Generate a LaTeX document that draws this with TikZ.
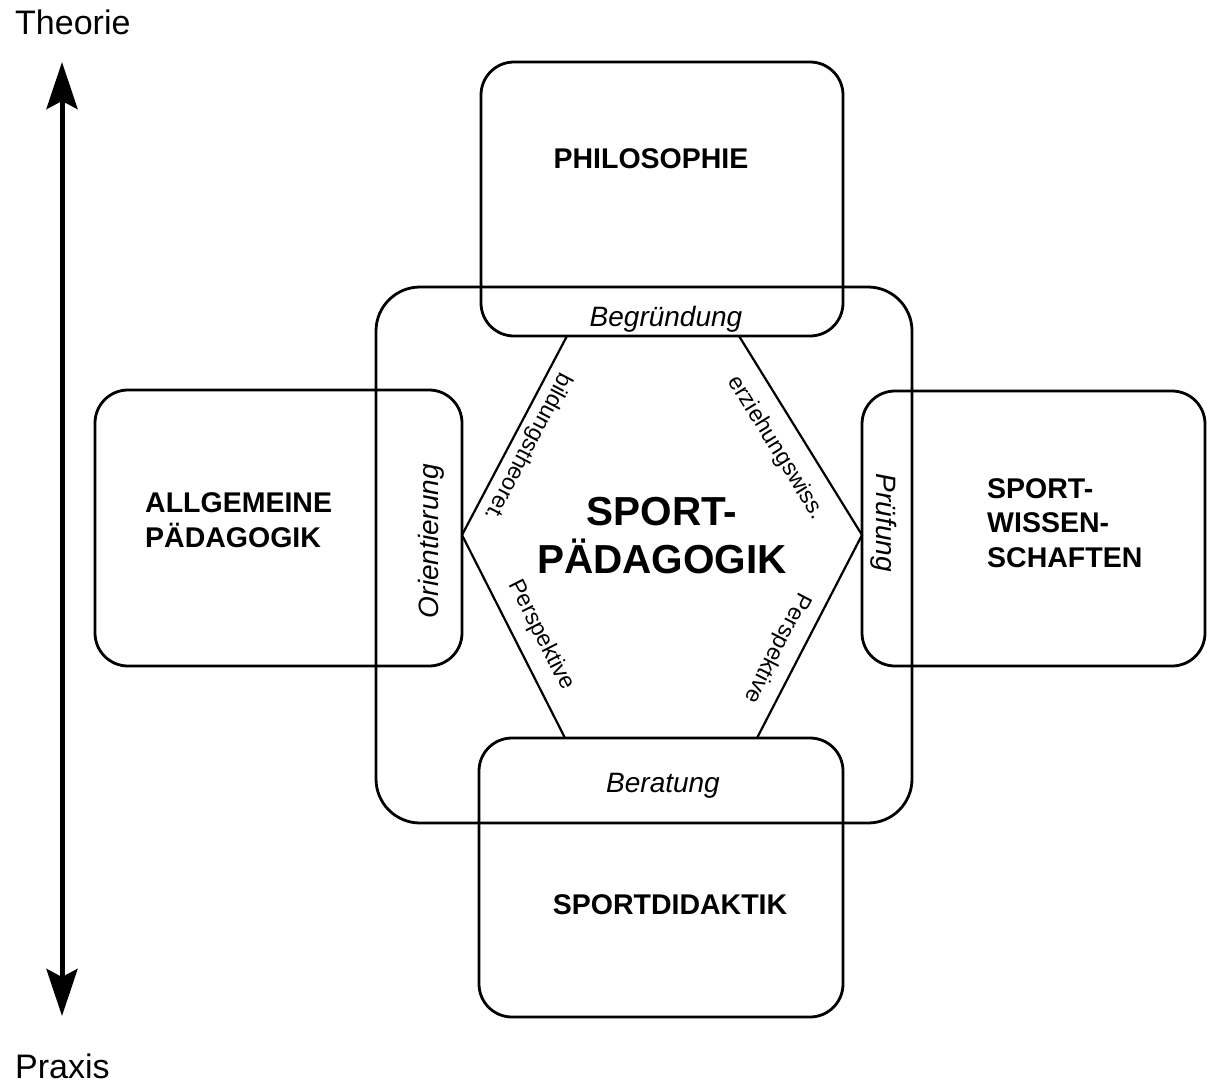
\documentclass[tikz,border=0pt]{standalone}
\usepackage{fontspec}
\setmainfont{Liberation Sans}
\usetikzlibrary{arrows.meta}
\begin{document}
\begin{tikzpicture}[x=1pt,y=-1pt,
  box/.style={draw, line width=2.8pt, rounded corners=33pt, inner sep=0pt, outer sep=0pt},
  hexline/.style={line width=2.2pt},
  boxlabel/.style={font=\fontsize{28.5}{34}\selectfont\bfseries, inner sep=0pt},
  biglabel/.style={font=\fontsize{40.5}{48}\selectfont\bfseries, inner sep=0pt},
  itlabel/.style={font=\fontsize{28}{34}\selectfont\itshape, inner sep=0pt},
  sidelabel/.style={font=\fontsize{23}{28}\selectfont, inner sep=0pt},
  axislabel/.style={font=\fontsize{34}{40}\selectfont, inner sep=0pt},
  axisarrow/.style={line width=5pt, {Stealth[length=47pt,width=31pt,inset=8pt]}-{Stealth[length=47pt,width=31pt,inset=8pt]}}
]
\useasboundingbox (0,0) rectangle (1207,1084);

% axis
\node[axislabel, anchor=base west] (theorie) at (15,34) {Theorie};
\node[axislabel, anchor=base west] (praxis) at (15,1078) {Praxis};
\coordinate (atop) at (62,62);
\coordinate (abot) at (62,1016);
\draw[axisarrow] (abot) -- (atop);

% boxes
\node[box, rounded corners=44pt, minimum width=536pt, minimum height=536pt] (central) at (644,555) {};
\node[box, minimum width=362pt, minimum height=274pt] (phil) at (662,199) {};
\node[box, minimum width=364pt, minimum height=279pt] (didak) at (661,877.5) {};
\node[box, minimum width=367pt, minimum height=276pt] (allg) at (278.5,528) {};
\node[box, minimum width=343pt, minimum height=275pt] (sw) at (1033.5,528.5) {};

% hexagon
\coordinate (h1) at (567,336);
\coordinate (h2) at (739,336);
\coordinate (h3) at (862,535);
\coordinate (h4) at (757,738);
\coordinate (h5) at (565,738);
\coordinate (h6) at (462,535);
\draw[hexline] (h1) -- (h6) -- (h5);
\draw[hexline] (h2) -- (h3) -- (h4);

% box labels
\node[boxlabel, anchor=base] (philtxt) at (651,168) {PHILOSOPHIE};
\node[boxlabel, anchor=base] (didaktxt) at (670,914) {SPORTDIDAKTIK};
\node[boxlabel, anchor=base west] (allg1) at (145,512) {ALLGEMEINE};
\node[boxlabel, anchor=base west] (allg2) at (145,547) {PÄDAGOGIK};
\node[boxlabel, anchor=base west] (sw1) at (987,498) {SPORT-};
\node[boxlabel, anchor=base west] (sw2) at (987,532) {WISSEN-};
\node[boxlabel, anchor=base west] (sw3) at (987,567) {SCHAFTEN};

% central label
\node[biglabel, anchor=base] (sp1) at (662,525) {SPORT-};
\node[biglabel, anchor=base] (sp2) at (662,573) {PÄDAGOGIK};

% italic labels
\node[itlabel, anchor=base] (begr) at (666,326) {Begründung};
\node[itlabel, anchor=base] (berat) at (663,792) {Beratung};
\node[itlabel, anchor=base, rotate=90] (orient) at (438,541) {Orientierung};
\node[itlabel, anchor=base, rotate=-90] (pruef) at (876,523) {Prüfung};

% side labels
\node[sidelabel, rotate=-117.8] (bild) at (528,447) {bildungstheoret.};
\node[sidelabel, rotate=-58.3] (erz) at (776,448) {erziehungswiss.};
\node[sidelabel, rotate=-63.1] (perl) at (541,635) {Perspektive};
\node[sidelabel, rotate=-117.3] (perr) at (777,648) {Perspektive};
\end{tikzpicture}
\end{document}
